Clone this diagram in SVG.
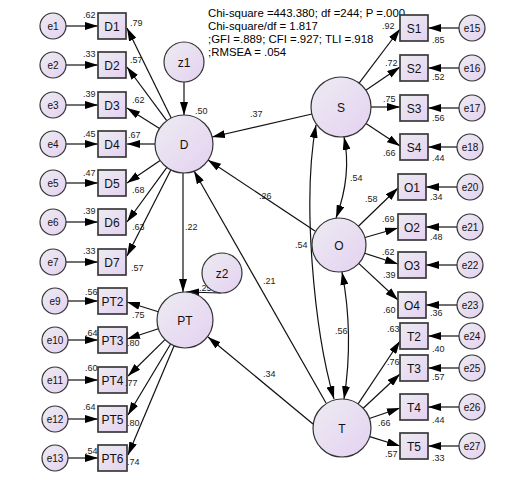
<svg xmlns="http://www.w3.org/2000/svg" width="526" height="482" viewBox="0 0 526 482">
<defs>
<linearGradient id="g" x1="0" y1="0" x2="1" y2="1">
<stop offset="0" stop-color="#ececf1"/>
<stop offset="1" stop-color="#e5d1f1"/>
</linearGradient>
<marker id="a" markerWidth="13" markerHeight="8" refX="13" refY="4" orient="auto-start-reverse" markerUnits="userSpaceOnUse">
<path d="M0,0 L13,4 L0,8 z" fill="#000"/>
</marker>
<style>
.n{fill:url(#g);stroke:#333;stroke-width:1.2}
.b{fill:url(#g);stroke:#3a3a3a;stroke-width:1.7}
#connectors line,#connectors path{stroke:#111;stroke-width:1.2;fill:none;marker-end:url(#a)}
#connectors path.d{marker-start:url(#a)}
text{font-family:"Liberation Sans",Arial,sans-serif;fill:#111}
.t{font-size:12px;text-anchor:middle}
.e{font-size:10px;text-anchor:middle}
.v{font-size:9px;fill:#222}
.s{font-size:11.4px;fill:#000}
</style>
</defs>
<rect width="526" height="482" fill="#fff"/>

<g id="stats">
<text class="s" x="208" y="17">Chi-square =443.380; df =244; P =.000</text>
<text class="s" x="208" y="30">Chi-square/df = 1.817</text>
<text class="s" x="208" y="43">;GFI =.889; CFI =.927; TLI =.918</text>
<text class="s" x="208" y="56">;RMSEA = .054</text>
</g>

<g id="connectors">
<line x1="66" y1="26" x2="98" y2="26"/>
<line x1="66" y1="65" x2="98" y2="65"/>
<line x1="66" y1="105" x2="98" y2="105"/>
<line x1="66" y1="144" x2="98" y2="144"/>
<line x1="66" y1="183" x2="98" y2="183"/>
<line x1="66" y1="222" x2="98" y2="222"/>
<line x1="66" y1="262" x2="98" y2="262"/>
<line x1="68" y1="301" x2="98" y2="301"/>
<line x1="68" y1="340" x2="98" y2="340"/>
<line x1="68" y1="380" x2="98" y2="380"/>
<line x1="68" y1="419" x2="98" y2="419"/>
<line x1="68" y1="458" x2="98" y2="458"/>
<line x1="171.2" y1="118" x2="127" y2="28"/>
<line x1="166.7" y1="120.7" x2="127" y2="67"/>
<line x1="159.5" y1="128.5" x2="127" y2="108"/>
<line x1="155" y1="144" x2="127" y2="144"/>
<line x1="160.1" y1="160.4" x2="127" y2="183"/>
<line x1="166.9" y1="167.4" x2="127" y2="222"/>
<line x1="170.9" y1="169.8" x2="127" y2="256"/>
<line x1="158.3" y1="311.7" x2="127" y2="302"/>
<line x1="158.4" y1="328.7" x2="127" y2="339"/>
<line x1="165" y1="339.6" x2="128" y2="376"/>
<line x1="170.6" y1="344" x2="128" y2="415"/>
<line x1="174.1" y1="345.8" x2="128" y2="455"/>
<line x1="184" y1="82" x2="184" y2="115"/>
<line x1="183" y1="173" x2="183" y2="292"/>
<line x1="221" y1="293" x2="186" y2="292"/>
<line x1="312" y1="114" x2="212" y2="137"/>
<line x1="315" y1="231" x2="208" y2="160"/>
<line x1="326" y1="403" x2="194" y2="171"/>
<line x1="313" y1="424" x2="208" y2="337"/>
<path class="d" d="M344,137 Q352,175 336,218"/>
<path class="d" d="M342,272 Q354,335 344,399"/>
<path class="d" d="M316,125 C302,200 314,330 334,399"/>
<line x1="359.1" y1="83.1" x2="400" y2="29"/>
<line x1="365.8" y1="90.2" x2="400" y2="67"/>
<line x1="371" y1="107" x2="400" y2="107"/>
<line x1="366" y1="123.6" x2="400" y2="146"/>
<line x1="358.4" y1="226.2" x2="398" y2="188"/>
<line x1="365" y1="237.5" x2="398" y2="228"/>
<line x1="364.7" y1="253.3" x2="398" y2="264"/>
<line x1="358.7" y1="263.4" x2="398" y2="300"/>
<line x1="358.1" y1="403.9" x2="400" y2="341"/>
<line x1="363.2" y1="408.2" x2="400" y2="374"/>
<line x1="369.4" y1="418.5" x2="400" y2="408"/>
<line x1="369.7" y1="436.6" x2="400" y2="446"/>
<line x1="459" y1="28" x2="428" y2="28"/>
<line x1="459" y1="68" x2="428" y2="68"/>
<line x1="459" y1="108" x2="428" y2="108"/>
<line x1="457" y1="147" x2="428" y2="147"/>
<line x1="457" y1="187" x2="426" y2="187"/>
<line x1="457" y1="227" x2="426" y2="227"/>
<line x1="457" y1="265" x2="426" y2="265"/>
<line x1="457" y1="305" x2="426" y2="305"/>
<line x1="459" y1="336" x2="428" y2="336"/>
<line x1="459" y1="368" x2="428" y2="368"/>
<line x1="459" y1="407" x2="428" y2="407"/>
<line x1="459" y1="446" x2="428" y2="446"/>
</g>

<g id="e1"><circle class="n" cx="53" cy="26" r="13"/><text class="e" x="53" y="29.5">e1</text></g>
<g id="e2"><circle class="n" cx="53" cy="65" r="13"/><text class="e" x="53" y="68.5">e2</text></g>
<g id="e3"><circle class="n" cx="53" cy="105" r="13"/><text class="e" x="53" y="108.5">e3</text></g>
<g id="e4"><circle class="n" cx="53" cy="144" r="13"/><text class="e" x="53" y="147.5">e4</text></g>
<g id="e5"><circle class="n" cx="53" cy="183" r="13"/><text class="e" x="53" y="186.5">e5</text></g>
<g id="e6"><circle class="n" cx="53" cy="222" r="13"/><text class="e" x="53" y="225.5">e6</text></g>
<g id="e7"><circle class="n" cx="53" cy="262" r="13"/><text class="e" x="53" y="265.5">e7</text></g>
<g id="e9"><circle class="n" cx="55" cy="301" r="13"/><text class="e" x="55" y="304.5">e9</text></g>
<g id="e10"><circle class="n" cx="55" cy="340" r="13"/><text class="e" x="55" y="343.5">e10</text></g>
<g id="e11"><circle class="n" cx="55" cy="380" r="13"/><text class="e" x="55" y="383.5">e11</text></g>
<g id="e12"><circle class="n" cx="55" cy="419" r="13"/><text class="e" x="55" y="422.5">e12</text></g>
<g id="e13"><circle class="n" cx="55" cy="458" r="13"/><text class="e" x="55" y="461.5">e13</text></g>

<g id="D1"><rect class="b" x="98" y="13" width="28" height="26"/><text class="t" x="112" y="30.5">D1</text><text class="v" x="83" y="18">.62</text><text class="v" x="130" y="26">.79</text></g>
<g id="D2"><rect class="b" x="98" y="52" width="28" height="26"/><text class="t" x="112" y="69.5">D2</text><text class="v" x="83" y="57">.33</text><text class="v" x="130" y="63">.57</text></g>
<g id="D3"><rect class="b" x="98" y="92" width="28" height="26"/><text class="t" x="112" y="109.5">D3</text><text class="v" x="83" y="97">.39</text><text class="v" x="132" y="103">.62</text></g>
<g id="D4"><rect class="b" x="98" y="131" width="28" height="26"/><text class="t" x="112" y="148.5">D4</text><text class="v" x="83" y="137">.45</text><text class="v" x="128" y="138">.67</text></g>
<g id="D5"><rect class="b" x="98" y="170" width="28" height="26"/><text class="t" x="112" y="187.5">D5</text><text class="v" x="83" y="176">.47</text><text class="v" x="132" y="193">.68</text></g>
<g id="D6"><rect class="b" x="98" y="209" width="28" height="26"/><text class="t" x="112" y="226.5">D6</text><text class="v" x="83" y="214">.39</text><text class="v" x="132" y="230">.63</text></g>
<g id="D7"><rect class="b" x="98" y="249" width="28" height="26"/><text class="t" x="112" y="266.5">D7</text><text class="v" x="83" y="254">.33</text><text class="v" x="131" y="271">.57</text></g>

<g id="PT2"><rect class="b" x="98" y="288" width="29" height="26"/><text class="t" x="112.5" y="305.5">PT2</text><text class="v" x="85" y="295">.56</text><text class="v" x="132" y="318">.75</text></g>
<g id="PT3"><rect class="b" x="98" y="327" width="29" height="26"/><text class="t" x="112.5" y="344.5">PT3</text><text class="v" x="85" y="336">.64</text><text class="v" x="127" y="346">.80</text></g>
<g id="PT4"><rect class="b" x="98" y="367" width="29" height="26"/><text class="t" x="112.5" y="384.5">PT4</text><text class="v" x="85" y="371">.60</text><text class="v" x="125" y="386">.77</text></g>
<g id="PT5"><rect class="b" x="98" y="406" width="29" height="26"/><text class="t" x="112.5" y="423.5">PT5</text><text class="v" x="83" y="410">.64</text><text class="v" x="127" y="426">.80</text></g>
<g id="PT6"><rect class="b" x="98" y="445" width="29" height="26"/><text class="t" x="112.5" y="462.5">PT6</text><text class="v" x="85" y="454">.54</text><text class="v" x="127" y="465">.74</text></g>

<g id="z1"><circle class="n" cx="184" cy="62" r="20"/><text class="t" x="184" y="66.5">z1</text><text class="v" x="195" y="114">.50</text></g>
<g id="D"><circle class="n" cx="184" cy="144" r="29"/><text class="t" x="184" y="148.5">D</text></g>
<text class="v" x="199" y="291">.25</text>
<g id="z2"><circle class="n" cx="222" cy="273" r="20"/><text class="t" x="222" y="277.5">z2</text></g>
<g id="PT"><circle class="n" cx="185" cy="320" r="28"/><text class="t" x="185" y="324.5">PT</text></g>
<g id="S"><circle class="n" cx="341" cy="107" r="30"/><text class="t" x="341" y="111.5">S</text></g>
<g id="O"><circle class="n" cx="339" cy="245" r="27"/><text class="t" x="339" y="249.5">O</text></g>
<g id="T"><circle class="n" cx="342" cy="428" r="29"/><text class="t" x="342" y="432.5">T</text></g>

<g id="pathlabels">
<text class="v" x="185" y="230">.22</text>
<text class="v" x="250" y="117">.37</text>
<text class="v" x="259" y="199">.26</text>
<text class="v" x="263" y="284">.21</text>
<text class="v" x="263" y="377">.34</text>
<text class="v" x="350" y="181">.54</text>
<text class="v" x="295" y="248">.54</text>
<text class="v" x="335" y="334">.56</text>
</g>

<g id="S1"><rect class="b" x="400" y="15" width="28" height="26"/><text class="t" x="414" y="32.5">S1</text><text class="v" x="382" y="29">.92</text><text class="v" x="432" y="43">.85</text></g>
<g id="S2"><rect class="b" x="400" y="55" width="28" height="26"/><text class="t" x="414" y="72.5">S2</text><text class="v" x="385" y="66">.72</text><text class="v" x="432" y="80">.52</text></g>
<g id="S3"><rect class="b" x="400" y="95" width="28" height="26"/><text class="t" x="414" y="112.5">S3</text><text class="v" x="383" y="102">.75</text><text class="v" x="432" y="121">.56</text></g>
<g id="S4"><rect class="b" x="400" y="134" width="28" height="26"/><text class="t" x="414" y="151.5">S4</text><text class="v" x="383" y="156">.66</text><text class="v" x="432" y="161">.44</text></g>

<g id="O1"><rect class="b" x="398" y="174" width="28" height="26"/><text class="t" x="412" y="191.5">O1</text><text class="v" x="365" y="202">.58</text><text class="v" x="430" y="200">.34</text></g>
<g id="O2"><rect class="b" x="398" y="214" width="28" height="26"/><text class="t" x="412" y="231.5">O2</text><text class="v" x="382" y="222">.69</text><text class="v" x="430" y="240">.48</text></g>
<g id="O3"><rect class="b" x="398" y="252" width="28" height="26"/><text class="t" x="412" y="269.5">O3</text><text class="v" x="382" y="255">.62</text><text class="v" x="383" y="278">.39</text></g>
<g id="O4"><rect class="b" x="398" y="292" width="28" height="26"/><text class="t" x="412" y="309.5">O4</text><text class="v" x="383" y="313">.60</text><text class="v" x="430" y="316">.36</text></g>

<g id="T2"><rect class="b" x="400" y="323" width="28" height="26"/><text class="t" x="414" y="340.5">T2</text><text class="v" x="387" y="332">.63</text><text class="v" x="432" y="352">.40</text></g>
<g id="T3"><rect class="b" x="400" y="355" width="28" height="26"/><text class="t" x="414" y="372.5">T3</text><text class="v" x="387" y="365">.76</text><text class="v" x="432" y="380">.57</text></g>
<g id="T4"><rect class="b" x="400" y="394" width="28" height="26"/><text class="t" x="414" y="411.5">T4</text><text class="v" x="378" y="426">.66</text><text class="v" x="432" y="423">.44</text></g>
<g id="T5"><rect class="b" x="400" y="433" width="28" height="26"/><text class="t" x="414" y="450.5">T5</text><text class="v" x="385" y="457">.57</text><text class="v" x="432" y="461">.33</text></g>

<g id="e15"><circle class="n" cx="472" cy="28" r="13"/><text class="e" x="472" y="31.5">e15</text></g>
<g id="e16"><circle class="n" cx="472" cy="68" r="13"/><text class="e" x="472" y="71.5">e16</text></g>
<g id="e17"><circle class="n" cx="472" cy="108" r="13"/><text class="e" x="472" y="111.5">e17</text></g>
<g id="e18"><circle class="n" cx="470" cy="147" r="13"/><text class="e" x="470" y="150.5">e18</text></g>
<g id="e20"><circle class="n" cx="470" cy="187" r="13"/><text class="e" x="470" y="190.5">e20</text></g>
<g id="e21"><circle class="n" cx="470" cy="227" r="13"/><text class="e" x="470" y="230.5">e21</text></g>
<g id="e22"><circle class="n" cx="470" cy="265" r="13"/><text class="e" x="470" y="268.5">e22</text></g>
<g id="e23"><circle class="n" cx="470" cy="305" r="13"/><text class="e" x="470" y="308.5">e23</text></g>
<g id="e24"><circle class="n" cx="472" cy="336" r="13"/><text class="e" x="472" y="339.5">e24</text></g>
<g id="e25"><circle class="n" cx="472" cy="368" r="13"/><text class="e" x="472" y="371.5">e25</text></g>
<g id="e26"><circle class="n" cx="472" cy="407" r="13"/><text class="e" x="472" y="410.5">e26</text></g>
<g id="e27"><circle class="n" cx="472" cy="446" r="13"/><text class="e" x="472" y="449.5">e27</text></g>
</svg>
